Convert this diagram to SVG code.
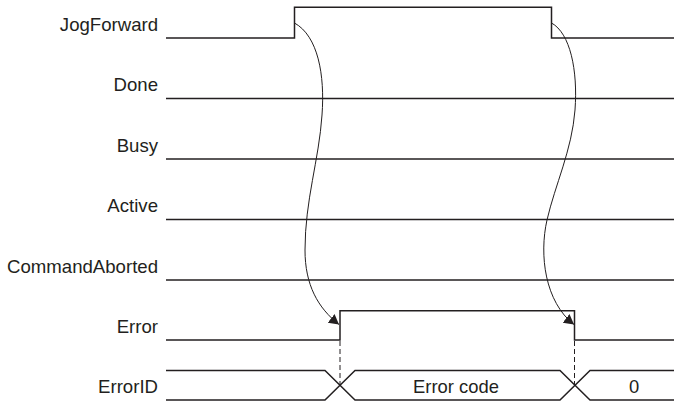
<svg xmlns="http://www.w3.org/2000/svg" width="674" height="401" viewBox="0 0 674 401">
<defs>
<style>
.lbl{font-family:"Liberation Sans",Arial,sans-serif;font-size:18.6px;fill:#231f20;text-anchor:end}
.val{font-family:"Liberation Sans",Arial,sans-serif;font-size:18.4px;fill:#231f20;text-anchor:middle}
.sig{fill:none;stroke:#231f20;stroke-width:1.5}
.cur{fill:none;stroke:#231f20;stroke-width:1}
.dash{fill:none;stroke:#231f20;stroke-width:1;stroke-dasharray:5 3}
</style>
<marker id="ah" markerUnits="userSpaceOnUse" markerWidth="12" markerHeight="12" refX="10" refY="5.5" orient="auto">
<path d="M0,0 L10,5.5 L0,11 z" fill="#231f20"/>
</marker>
</defs>
<rect width="674" height="401" fill="#ffffff"/>
<g id="sig-jogforward">
<text class="lbl" x="158" y="30.5">JogForward</text>
<polyline class="sig" points="166,38 294.5,38 294.5,7.3 551.5,7.3 551.5,38 674,38"/>
</g>
<g id="sig-done">
<text class="lbl" x="158" y="91">Done</text>
<line class="sig" x1="166" y1="98.5" x2="674" y2="98.5"/>
</g>
<g id="sig-busy">
<text class="lbl" x="158" y="151.5">Busy</text>
<line class="sig" x1="166" y1="159" x2="674" y2="159"/>
</g>
<g id="sig-active">
<text class="lbl" x="158" y="212">Active</text>
<line class="sig" x1="166" y1="219.5" x2="674" y2="219.5"/>
</g>
<g id="sig-commandaborted">
<text class="lbl" x="158" y="272.5">CommandAborted</text>
<line class="sig" x1="166" y1="280" x2="674" y2="280"/>
</g>
<g id="sig-error">
<text class="lbl" x="158" y="333">Error</text>
<polyline class="sig" points="166,340 340,340 340,310.7 574.5,310.7 574.5,340 674,340"/>
</g>
<g id="sig-errorid">
<text class="lbl" x="158" y="393">ErrorID</text>
<polyline class="sig" points="166,370.5 325,370.5 355,400 560,400 590,370.5 674,370.5"/>
<polyline class="sig" points="166,400 325,400 355,370.5 560,370.5 590,400 674,400"/>
<text class="val" x="456" y="393">Error code</text>
<text class="val" x="634" y="393">0</text>
</g>
<g id="connectors">
<path class="cur" marker-end="url(#ah)" d="M294.5,23 C318,36 325,75 322,115 C319,160 305,200 305,250 C305,285 318,308 339,324.5"/>
<path class="cur" marker-end="url(#ah)" d="M551.5,23 C570,33 578,70 575,110 C572,150 555,185 547,220 C539,255 545,302 574,324.5"/>
<line class="dash" x1="340" y1="341" x2="340" y2="385"/>
<line class="dash" x1="574.5" y1="341" x2="574.5" y2="385"/>
</g>
</svg>
